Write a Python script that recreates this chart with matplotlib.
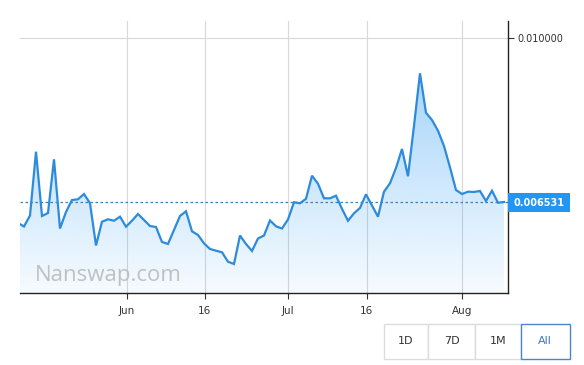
import numpy as np
import matplotlib
matplotlib.use("Agg")
import matplotlib.pyplot as plt
from matplotlib.patches import Polygon, Rectangle

# ---- data ----
prices = [
    0.006087, 0.006013, 0.006245, 0.007595, 0.006235, 0.006298, 0.007434, 0.005970,
    0.006319, 0.006573, 0.006588, 0.006700, 0.006504, 0.005611, 0.006114, 0.006165,
    0.006135, 0.006220, 0.006009, 0.006135, 0.006277, 0.006150, 0.006023, 0.006002,
    0.005685, 0.005643, 0.005939, 0.006235, 0.006334, 0.005911, 0.005833, 0.005657,
    0.005537, 0.005501, 0.005467, 0.005268, 0.005220, 0.005822, 0.005643, 0.005495,
    0.005759, 0.005822, 0.006140, 0.006017, 0.005970, 0.006161, 0.006525, 0.006504,
    0.006599, 0.007087, 0.006918, 0.006609, 0.006609, 0.006664, 0.006387, 0.006133,
    0.006292, 0.006404, 0.006694, 0.006457, 0.006220, 0.006749, 0.006927, 0.007250,
    0.007652, 0.007075, 0.008139, 0.009253, 0.008420, 0.008265, 0.008039, 0.007716,
    0.007265, 0.006785, 0.006700, 0.006749, 0.006743, 0.006764, 0.006552, 0.006770,
    0.006516, 0.006531,
]
x_tick_bars = [18.1, 31.1, 45.0, 58.1, 74.0]
x_tick_labels = ["Jun", "16", "Jul", "16", "Aug"]
y_tick_values = [0.010000]
y_tick_labels = ["0.010000"]
last_price = 0.006531
last_label = "0.006531"
buttons = ["1D", "7D", "1M", "All"]
watermark = "Nanswap.com"

W, H = 584, 365
fig = plt.figure(figsize=(W / 100, H / 100), dpi=100)
fig.patch.set_facecolor("white")

def fx(px):
    return px / W

def fy(py):
    return 1 - py / H

ax = fig.add_axes([fx(20), fy(293), fx(508) - fx(20), fy(20.5) - fy(293)])
ax.set_facecolor("white")

x = np.arange(len(prices))
y = np.array(prices)
ymin, ymax = 0.004606, 0.010370
ax.set_xlim(0.333, 81.67)
ax.set_ylim(ymin, ymax)

line_color = "#2d8bdb"

# gradient fill
verts = [(x[0], ymin)] + list(zip(x, y)) + [(x[-1], ymin)]
poly = Polygon(verts, closed=True, facecolor="none", edgecolor="none")
ax.add_patch(poly)
n = 256
alphas = np.linspace(0.04, 0.40, n)
grad = np.zeros((n, 1, 4))
grad[:, 0, 0] = 33 / 255
grad[:, 0, 1] = 150 / 255
grad[:, 0, 2] = 243 / 255
grad[:, 0, 3] = alphas
im = ax.imshow(grad, extent=[x[0], x[-1], ymin, y.max()], aspect="auto",
               origin="lower", zorder=1, interpolation="bilinear")
im.set_clip_path(poly)

ax.plot(x, y, color=line_color, lw=1.6, zorder=3, solid_joinstyle="miter")

# dotted last price line
ax.axhline(last_price, color="#3a7fb8", lw=0.9, ls=(0, (2, 2)), zorder=2)

# grid
ax.set_xticks(x_tick_bars)
ax.set_xticklabels(x_tick_labels)
ax.set_yticks(y_tick_values)
ax.set_yticklabels(y_tick_labels)
ax.grid(True, color="#d8d8d8", lw=0.8, zorder=0)
ax.set_axisbelow(True)
ax.yaxis.tick_right()
ax.tick_params(axis="x", length=4, width=0.8, color="#333333", labelsize=7.5,
               labelcolor="#333333", pad=5)
ax.tick_params(axis="y", length=4, width=0.8, color="#333333", labelsize=7,
               labelcolor="#333333", pad=3)
for s in ["left", "top"]:
    ax.spines[s].set_visible(False)
for s in ["right", "bottom"]:
    ax.spines[s].set_color("#222222")
    ax.spines[s].set_linewidth(1.0)

# watermark
ax.text(fx(35), fy(275), watermark, transform=fig.transFigure, fontsize=16,
        color="#c0c0c0", family="Open Sans", va="center", ha="left", zorder=2)

# last price label
fig.patches.append(Rectangle((fx(508), fy(212)), fx(570) - fx(508), fy(193) - fy(212),
                             transform=fig.transFigure, facecolor="#2196f3",
                             edgecolor="none", zorder=5))
fig.text(fx(539), fy(202.5), last_label, color="white", fontsize=7, fontweight="bold",
         ha="center", va="center", zorder=6)

# buttons
bx = [383.6, 428, 475, 521, 569.5]
by0, by1 = 324, 359
for i, lab in enumerate(buttons):
    active = (lab == "All")
    fig.patches.append(Rectangle((fx(bx[i]), fy(by1)), fx(bx[i + 1]) - fx(bx[i]),
                                 fy(by0) - fy(by1), transform=fig.transFigure,
                                 facecolor="white",
                                 edgecolor="#4a86c8" if active else "#dcdcdc",
                                 lw=1.0, zorder=7 if active else 6))
    fig.text(fx((bx[i] + bx[i + 1]) / 2), fy((by0 + by1) / 2), lab,
             color="#3f76c4" if active else "#333333", fontsize=8,
             ha="center", va="center", zorder=8)

fig.savefig("out.png", dpi=100)
